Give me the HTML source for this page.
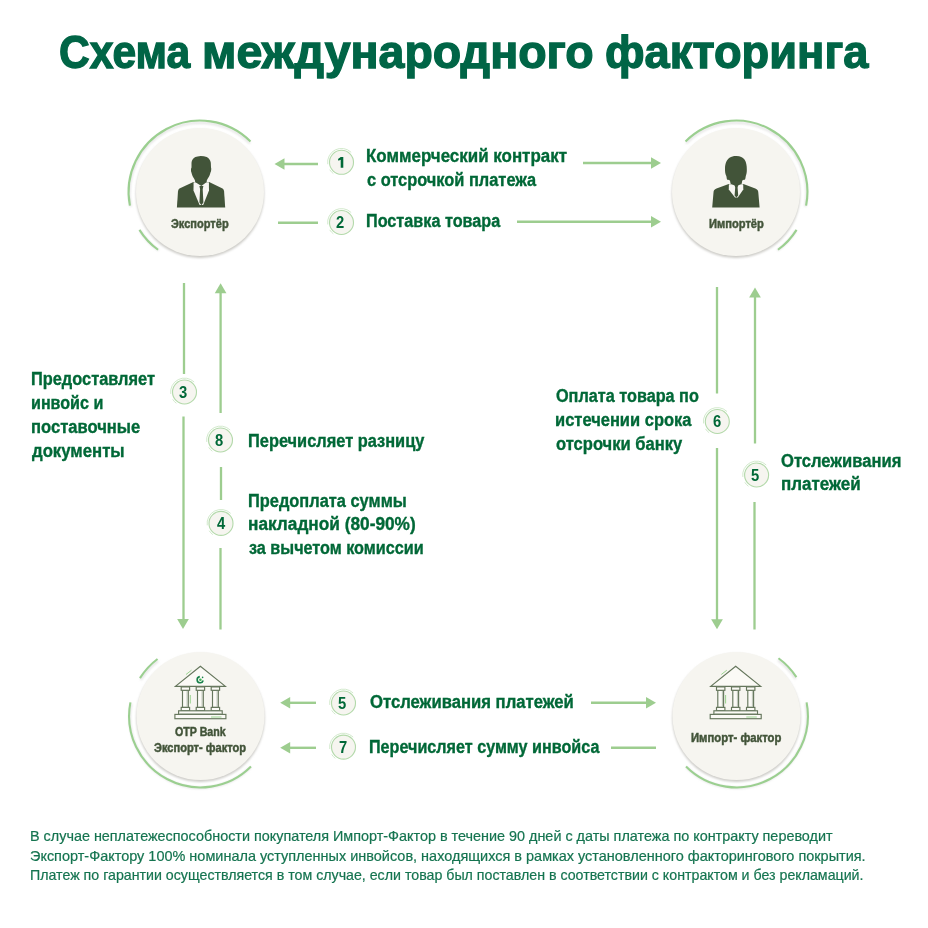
<!DOCTYPE html>
<html><head><meta charset="utf-8">
<style>
html,body{margin:0;padding:0;background:#fff;}
body{width:928px;height:928px;position:relative;overflow:hidden;font-family:"Liberation Sans",sans-serif;}
svg{position:absolute;left:0;top:0;}
.t{position:absolute;white-space:nowrap;transform-origin:0 0;}
.d{position:absolute;width:30px;text-align:center;font-weight:bold;transform:scaleX(0.93);}
</style></head><body>
<svg width="928" height="928" viewBox="0 0 928 928">
<defs><filter id="blur" x="-20%" y="-20%" width="140%" height="140%"><feGaussianBlur stdDeviation="0.8"/></filter></defs>
<circle cx="200" cy="193.8" r="64.2" fill="#cdccc8" filter="url(#blur)"/>
<circle cx="200" cy="192" r="64" fill="#f6f5f0"/>
<path d="M130.70 206.77 A70.6 70.6 0 0 1 249.92 143.38" stroke="#e2e2e2" stroke-width="2" fill="none" filter="url(#blur)"/>
<path d="M129.91 205.62 A71.4 71.4 0 0 1 250.49 141.51" stroke="#9bcf90" stroke-width="2.1" fill="none"/>
<path d="M158.50 250.42 A70.6 70.6 0 0 1 140.13 230.71" stroke="#e2e2e2" stroke-width="2" fill="none" filter="url(#blur)"/>
<path d="M158.03 249.76 A71.4 71.4 0 0 1 139.45 229.84" stroke="#9bcf90" stroke-width="2.1" fill="none"/>
<circle cx="736" cy="193.8" r="64.2" fill="#cdccc8" filter="url(#blur)"/>
<circle cx="736" cy="192" r="64" fill="#f6f5f0"/>
<path d="M686.08 143.38 A70.6 70.6 0 0 1 805.30 206.77" stroke="#e2e2e2" stroke-width="2" fill="none" filter="url(#blur)"/>
<path d="M685.51 141.51 A71.4 71.4 0 0 1 806.09 205.62" stroke="#9bcf90" stroke-width="2.1" fill="none"/>
<path d="M795.87 230.71 A70.6 70.6 0 0 1 777.50 250.42" stroke="#e2e2e2" stroke-width="2" fill="none" filter="url(#blur)"/>
<path d="M796.55 229.84 A71.4 71.4 0 0 1 777.97 249.76" stroke="#9bcf90" stroke-width="2.1" fill="none"/>
<circle cx="200.5" cy="717.8" r="64.2" fill="#cdccc8" filter="url(#blur)"/>
<circle cx="200.5" cy="716" r="64" fill="#f6f5f0"/>
<path d="M250.42 767.22 A70.6 70.6 0 0 1 131.20 703.83" stroke="#e2e2e2" stroke-width="2" fill="none" filter="url(#blur)"/>
<path d="M250.99 766.49 A71.4 71.4 0 0 1 130.41 702.38" stroke="#9bcf90" stroke-width="2.1" fill="none"/>
<path d="M140.63 679.89 A70.6 70.6 0 0 1 158.01 660.92" stroke="#e2e2e2" stroke-width="2" fill="none" filter="url(#blur)"/>
<path d="M139.95 678.16 A71.4 71.4 0 0 1 157.53 658.98" stroke="#9bcf90" stroke-width="2.1" fill="none"/>
<circle cx="736.5" cy="717.8" r="64.2" fill="#cdccc8" filter="url(#blur)"/>
<circle cx="736.5" cy="716" r="64" fill="#f6f5f0"/>
<path d="M805.80 703.83 A70.6 70.6 0 0 1 686.58 767.22" stroke="#e2e2e2" stroke-width="2" fill="none" filter="url(#blur)"/>
<path d="M806.59 702.38 A71.4 71.4 0 0 1 686.01 766.49" stroke="#9bcf90" stroke-width="2.1" fill="none"/>
<path d="M778.00 660.18 A70.6 70.6 0 0 1 795.71 678.85" stroke="#e2e2e2" stroke-width="2" fill="none" filter="url(#blur)"/>
<path d="M778.47 658.24 A71.4 71.4 0 0 1 796.38 677.11" stroke="#9bcf90" stroke-width="2.1" fill="none"/>
<line x1="284" y1="164" x2="318" y2="164" stroke="#9dcd8f" stroke-width="2.4"/>
<polygon points="274.5,164 284.5,158.25 284.5,169.75" fill="#9dcd8f"/>
<line x1="583" y1="163" x2="651" y2="163" stroke="#9dcd8f" stroke-width="2.4"/>
<polygon points="661,163 651,157.25 651,168.75" fill="#9dcd8f"/>
<line x1="278" y1="222.8" x2="318" y2="222.8" stroke="#9dcd8f" stroke-width="2.4"/>
<line x1="517" y1="221.8" x2="651" y2="221.8" stroke="#9dcd8f" stroke-width="2.4"/>
<polygon points="661,221.8 651,216.05 651,227.55" fill="#9dcd8f"/>
<line x1="290" y1="702.8" x2="316" y2="702.8" stroke="#9dcd8f" stroke-width="2.4"/>
<polygon points="280.2,702.8 290.2,697.05 290.2,708.55" fill="#9dcd8f"/>
<line x1="591" y1="702.8" x2="646" y2="702.8" stroke="#9dcd8f" stroke-width="2.4"/>
<polygon points="656,702.8 646,697.05 646,708.55" fill="#9dcd8f"/>
<line x1="290" y1="747.8" x2="316" y2="747.8" stroke="#9dcd8f" stroke-width="2.4"/>
<polygon points="280.2,747.8 290.2,742.05 290.2,753.55" fill="#9dcd8f"/>
<line x1="611" y1="747.8" x2="656" y2="747.8" stroke="#9dcd8f" stroke-width="2.4"/>
<line x1="184" y1="283" x2="184" y2="374" stroke="#9dcd8f" stroke-width="2.3"/>
<line x1="183.5" y1="416.5" x2="183.5" y2="620" stroke="#9dcd8f" stroke-width="2.3"/>
<polygon points="183,629 177.15,619 188.85,619" fill="#9dcd8f"/>
<polygon points="220.6,283.2 214.75,293.2 226.45,293.2" fill="#9dcd8f"/>
<line x1="220.6" y1="293" x2="220.6" y2="413" stroke="#9dcd8f" stroke-width="2.3"/>
<line x1="221" y1="467" x2="221" y2="500" stroke="#9dcd8f" stroke-width="2.3"/>
<line x1="220.5" y1="548" x2="220.5" y2="629.5" stroke="#9dcd8f" stroke-width="2.3"/>
<line x1="717" y1="287" x2="717" y2="393.5" stroke="#9dcd8f" stroke-width="2.3"/>
<line x1="717" y1="448" x2="717" y2="620" stroke="#9dcd8f" stroke-width="2.3"/>
<polygon points="717,629.3 711.15,619.3 722.85,619.3" fill="#9dcd8f"/>
<polygon points="755,287.5 749.15,297.5 760.85,297.5" fill="#9dcd8f"/>
<line x1="755" y1="297" x2="755" y2="443.5" stroke="#9dcd8f" stroke-width="2.3"/>
<line x1="754.5" y1="502" x2="754.5" y2="629.5" stroke="#9dcd8f" stroke-width="2.3"/>
<circle cx="341.5" cy="162.3" r="12" fill="#f6f5f0" stroke="#b3d9aa" stroke-width="1.1"/><path d="M327.74 164.23 A13.9 13.9 0 0 1 351.16 152.30" stroke="#d3eacd" stroke-width="1" fill="none"/><path d="M333.33 173.55 A13.9 13.9 0 0 1 329.71 169.67" stroke="#d3eacd" stroke-width="1" fill="none"/><path d="M340.7,157.0 L343.3,157.0 L343.3,167.70000000000002 L340.7,167.70000000000002 L340.7,159.70000000000002 L338.4,160.70000000000002 L338.0,159.0 Z" fill="#006837"/>
<circle cx="341.5" cy="222.5" r="12" fill="#f6f5f0" stroke="#b3d9aa" stroke-width="1.1"/><path d="M327.74 224.43 A13.9 13.9 0 0 1 351.16 212.50" stroke="#d3eacd" stroke-width="1" fill="none"/><path d="M333.33 233.75 A13.9 13.9 0 0 1 329.71 229.87" stroke="#d3eacd" stroke-width="1" fill="none"/>
<circle cx="184.5" cy="392" r="12" fill="#f6f5f0" stroke="#b3d9aa" stroke-width="1.1"/><path d="M170.74 393.93 A13.9 13.9 0 0 1 194.16 382.00" stroke="#d3eacd" stroke-width="1" fill="none"/><path d="M176.33 403.25 A13.9 13.9 0 0 1 172.71 399.37" stroke="#d3eacd" stroke-width="1" fill="none"/>
<circle cx="220.5" cy="440" r="12" fill="#f6f5f0" stroke="#b3d9aa" stroke-width="1.1"/><path d="M206.74 441.93 A13.9 13.9 0 0 1 230.16 430.00" stroke="#d3eacd" stroke-width="1" fill="none"/><path d="M212.33 451.25 A13.9 13.9 0 0 1 208.71 447.37" stroke="#d3eacd" stroke-width="1" fill="none"/>
<circle cx="221" cy="523.4" r="12" fill="#f6f5f0" stroke="#b3d9aa" stroke-width="1.1"/><path d="M207.24 525.33 A13.9 13.9 0 0 1 230.66 513.40" stroke="#d3eacd" stroke-width="1" fill="none"/><path d="M212.83 534.65 A13.9 13.9 0 0 1 209.21 530.77" stroke="#d3eacd" stroke-width="1" fill="none"/>
<circle cx="717.3" cy="421.5" r="12" fill="#f6f5f0" stroke="#b3d9aa" stroke-width="1.1"/><path d="M703.54 423.43 A13.9 13.9 0 0 1 726.96 411.50" stroke="#d3eacd" stroke-width="1" fill="none"/><path d="M709.13 432.75 A13.9 13.9 0 0 1 705.51 428.87" stroke="#d3eacd" stroke-width="1" fill="none"/>
<circle cx="756.6" cy="475" r="12" fill="#f6f5f0" stroke="#b3d9aa" stroke-width="1.1"/><path d="M742.84 476.93 A13.9 13.9 0 0 1 766.26 465.00" stroke="#d3eacd" stroke-width="1" fill="none"/><path d="M748.43 486.25 A13.9 13.9 0 0 1 744.81 482.37" stroke="#d3eacd" stroke-width="1" fill="none"/>
<circle cx="343.5" cy="703" r="12" fill="#f6f5f0" stroke="#b3d9aa" stroke-width="1.1"/><path d="M329.74 704.93 A13.9 13.9 0 0 1 353.16 693.00" stroke="#d3eacd" stroke-width="1" fill="none"/><path d="M335.33 714.25 A13.9 13.9 0 0 1 331.71 710.37" stroke="#d3eacd" stroke-width="1" fill="none"/>
<circle cx="343.5" cy="747.1" r="12" fill="#f6f5f0" stroke="#b3d9aa" stroke-width="1.1"/><path d="M329.74 749.03 A13.9 13.9 0 0 1 353.16 737.10" stroke="#d3eacd" stroke-width="1" fill="none"/><path d="M335.33 758.35 A13.9 13.9 0 0 1 331.71 754.47" stroke="#d3eacd" stroke-width="1" fill="none"/>
<g transform="translate(172,150)"><path d="M21.4,32 L8,38.2 C6.6,38.9 6.2,39.8 6,41.5 L4.9,57.6 L53.2,57.6 L52.1,41.5 C51.9,39.8 51.4,38.9 50,38.2 L37.1,32 Z" fill="#425439"/><path d="M21.6,32.2 L36.9,32.2 L37,40.5 L31.2,55 L27.6,55 L21.5,40.5 Z" fill="#f7f6f2"/><path d="M28.7,5.9 C31,5.9 33,6.3 34.7,7 C37,8 38.5,10.5 38.8,12.7 L39,17.4 C39.5,18.5 39.3,21.5 38.4,22.7 C38,24.5 37,27 36.1,28.1 C35.5,29.2 34.9,30 34.7,30.7 L34.7,32.1 L29.4,36.1 L23.1,32.1 L23.1,30.7 C22.9,30 22.3,29.2 21.7,28.1 C20.8,27 20,24.5 19.5,22.7 C18.8,21.5 18.8,18.5 19.5,17.4 L19.5,12.7 C19.8,10.5 20.5,9.5 21,9 C22,7.5 24,6.2 28.7,5.9 Z" fill="#425439"/><path d="M27.4,36 L31.4,36 L30.7,39.3 L31.4,52.5 L29.4,55.2 L27.4,52.5 L28.1,39.3 Z" fill="#425439"/></g>
<g transform="translate(707,150)"><path d="M21.7,34 L9.5,38.6 C7.5,39.5 6.6,40.5 6.5,42.5 L5.2,57.6 L52.6,57.6 L51.3,42.5 C51.2,40.5 50.3,39.5 48.3,38.6 L36.4,34 Z" fill="#425439"/><path d="M21.9,34.2 L36.2,34.2 L36.3,39.5 L30.8,47.6 L28,47.6 L21.8,39.5 Z" fill="#f7f6f2"/><path d="M28.7,6 C33,5.8 35.5,7 37.5,9.5 C39.2,12 39.9,15.5 39.8,19 C40,22 39.5,24 38.8,26 C38.5,27.5 38.6,28.8 37.8,29.7 C36.5,29.8 35.8,30 35.2,30.8 L34.7,33.8 L29.4,36.2 L23.6,33.8 L23,30.8 C22.5,30 21.5,29.8 20.2,29.7 C19.5,28.5 19.8,27.5 19.3,26 C18.3,24 17.9,21.5 18,19 C18,13 20,9.5 22.5,7.8 C24.5,6.5 26.5,6 28.7,6 Z" fill="#425439"/><path d="M27.5,34.8 L31.3,34.8 L30.6,37.6 L31.2,45.5 L29.4,47.6 L27.6,45.5 L28.2,37.6 Z" fill="#425439"/></g>
<g transform="translate(170,660)" fill="#fbfaf6" stroke="#65765c" stroke-width="1.15" stroke-linejoin="miter"><path d="M30.4,6.3 L5.4,26.4 L55.4,26.4 Z"/><rect x="12.50" y="30.3" width="5.8" height="17.1"/><rect x="11.20" y="26.9" width="8.4" height="3.4"/><rect x="11.20" y="47.4" width="8.4" height="3.4"/><rect x="27.50" y="30.3" width="5.8" height="17.1"/><rect x="26.20" y="26.9" width="8.4" height="3.4"/><rect x="26.20" y="47.4" width="8.4" height="3.4"/><rect x="42.50" y="30.3" width="5.8" height="17.1"/><rect x="41.20" y="26.9" width="8.4" height="3.4"/><rect x="41.20" y="47.4" width="8.4" height="3.4"/><rect x="8.6" y="50.8" width="43.6" height="3.6"/><rect x="4.9" y="54.4" width="51" height="4.3"/></g><g transform="translate(170,660)" stroke="#aab4a3" stroke-width="0.8"><line x1="17.10" y1="30.9" x2="17.10" y2="46.8"/><line x1="32.10" y1="30.9" x2="32.10" y2="46.8"/><line x1="47.10" y1="30.9" x2="47.10" y2="46.8"/><line x1="9.5" y1="53.6" x2="51.3" y2="53.6"/></g><g transform="translate(170,660)" stroke="#8fd083" stroke-width="0.9" fill="none"><path d="M16,14.5 L21.5,10.2"/><path d="M20.3,35 L20.3,43.5"/><path d="M41,57 L51.5,57"/></g><g transform="translate(170,660)"><path d="M33.2,20.6 A3.1,3.1 0 1 1 29.8,16.6" fill="none" stroke="#17804a" stroke-width="1.6"/><circle cx="32.6" cy="17.4" r="0.8" fill="#17804a"/><circle cx="30.4" cy="19.7" r="1.3" fill="#3cb454"/></g>
<g transform="translate(705.3,660)" fill="#fbfaf6" stroke="#65765c" stroke-width="1.15" stroke-linejoin="miter"><path d="M30.4,6.3 L5.4,26.4 L55.4,26.4 Z"/><rect x="12.50" y="30.3" width="5.8" height="17.1"/><rect x="11.20" y="26.9" width="8.4" height="3.4"/><rect x="11.20" y="47.4" width="8.4" height="3.4"/><rect x="27.50" y="30.3" width="5.8" height="17.1"/><rect x="26.20" y="26.9" width="8.4" height="3.4"/><rect x="26.20" y="47.4" width="8.4" height="3.4"/><rect x="42.50" y="30.3" width="5.8" height="17.1"/><rect x="41.20" y="26.9" width="8.4" height="3.4"/><rect x="41.20" y="47.4" width="8.4" height="3.4"/><rect x="8.6" y="50.8" width="43.6" height="3.6"/><rect x="4.9" y="54.4" width="51" height="4.3"/></g><g transform="translate(705.3,660)" stroke="#aab4a3" stroke-width="0.8"><line x1="17.10" y1="30.9" x2="17.10" y2="46.8"/><line x1="32.10" y1="30.9" x2="32.10" y2="46.8"/><line x1="47.10" y1="30.9" x2="47.10" y2="46.8"/><line x1="9.5" y1="53.6" x2="51.3" y2="53.6"/></g><g transform="translate(705.3,660)" stroke="#8fd083" stroke-width="0.9" fill="none"><path d="M16,14.5 L21.5,10.2"/><path d="M20.3,35 L20.3,43.5"/><path d="M41,57 L51.5,57"/></g>
</svg>
<div class="t" id="t0" style="left:59.08px;top:29.14px;font-size:46.5px;line-height:46.5px;color:#006546;font-weight:bold;transform:scaleX(0.9161);letter-spacing:0px;-webkit-text-stroke:1.3px #006546">Схема</div>
<div class="t" id="t1" style="left:202.19px;top:29.14px;font-size:46.5px;line-height:46.5px;color:#006546;font-weight:bold;transform:scaleX(0.9997);letter-spacing:0px;-webkit-text-stroke:1.3px #006546">международного</div>
<div class="t" id="t2" style="left:604.62px;top:29.14px;font-size:46.5px;line-height:46.5px;color:#006546;font-weight:bold;transform:scaleX(0.9731);letter-spacing:0px;-webkit-text-stroke:1.3px #006546">факторинга</div>
<div class="t" id="t3" style="left:366.22px;top:148.29px;font-size:17.5px;line-height:17.5px;color:#006837;font-weight:bold;transform:scaleX(0.9676);letter-spacing:0px;-webkit-text-stroke:0.35px #006837">Коммерческий контракт</div>
<div class="t" id="t4" style="left:367.19px;top:171.79px;font-size:17.5px;line-height:17.5px;color:#006837;font-weight:bold;transform:scaleX(0.9365);letter-spacing:0px;-webkit-text-stroke:0.35px #006837">с отсрочкой платежа</div>
<div class="t" id="t5" style="left:366.26px;top:213.49px;font-size:17.5px;line-height:17.5px;color:#006837;font-weight:bold;transform:scaleX(0.9269);letter-spacing:0px;-webkit-text-stroke:0.35px #006837">Поставка товара</div>
<div class="t" id="t6" style="left:370.00px;top:694.49px;font-size:17.5px;line-height:17.5px;color:#006837;font-weight:bold;transform:scaleX(0.9521);letter-spacing:0px;-webkit-text-stroke:0.35px #006837">Отслеживания платежей</div>
<div class="t" id="t7" style="left:369.08px;top:739.49px;font-size:17.5px;line-height:17.5px;color:#006837;font-weight:bold;transform:scaleX(0.9229);letter-spacing:0px;-webkit-text-stroke:0.35px #006837">Перечисляет сумму инвойса</div>
<div class="t" id="t8" style="left:30.67px;top:370.79px;font-size:17.5px;line-height:17.5px;color:#006837;font-weight:bold;transform:scaleX(0.9351);letter-spacing:0px;-webkit-text-stroke:0.35px #006837">Предоставляет</div>
<div class="t" id="t9" style="left:30.69px;top:394.79px;font-size:17.5px;line-height:17.5px;color:#006837;font-weight:bold;transform:scaleX(0.9195);letter-spacing:0px;-webkit-text-stroke:0.35px #006837">инвойс и</div>
<div class="t" id="t10" style="left:30.66px;top:418.79px;font-size:17.5px;line-height:17.5px;color:#006837;font-weight:bold;transform:scaleX(0.9474);letter-spacing:0px;-webkit-text-stroke:0.35px #006837">поставочные</div>
<div class="t" id="t11" style="left:31.56px;top:442.79px;font-size:17.5px;line-height:17.5px;color:#006837;font-weight:bold;transform:scaleX(0.9567);letter-spacing:0px;-webkit-text-stroke:0.35px #006837">документы</div>
<div class="t" id="t12" style="left:248.06px;top:432.79px;font-size:17.5px;line-height:17.5px;color:#006837;font-weight:bold;transform:scaleX(0.9362);letter-spacing:0px;-webkit-text-stroke:0.35px #006837">Перечисляет разницу</div>
<div class="t" id="t13" style="left:248.06px;top:493.09px;font-size:17.5px;line-height:17.5px;color:#006837;font-weight:bold;transform:scaleX(0.9369);letter-spacing:0px;-webkit-text-stroke:0.35px #006837">Предоплата суммы</div>
<div class="t" id="t14" style="left:248.01px;top:516.49px;font-size:17.5px;line-height:17.5px;color:#006837;font-weight:bold;transform:scaleX(0.9858);letter-spacing:0px;-webkit-text-stroke:0.35px #006837">накладной (80-90%)</div>
<div class="t" id="t15" style="left:249.00px;top:539.89px;font-size:17.5px;line-height:17.5px;color:#006837;font-weight:bold;transform:scaleX(0.9255);letter-spacing:0px;-webkit-text-stroke:0.35px #006837">за вычетом комиссии</div>
<div class="t" id="t16" style="left:556.00px;top:387.79px;font-size:17.5px;line-height:17.5px;color:#006837;font-weight:bold;transform:scaleX(0.9273);letter-spacing:0px;-webkit-text-stroke:0.35px #006837">Оплата товара по</div>
<div class="t" id="t17" style="left:555.06px;top:411.69px;font-size:17.5px;line-height:17.5px;color:#006837;font-weight:bold;transform:scaleX(0.9424);letter-spacing:0px;-webkit-text-stroke:0.35px #006837">истечении срока</div>
<div class="t" id="t18" style="left:556.00px;top:435.59px;font-size:17.5px;line-height:17.5px;color:#006837;font-weight:bold;transform:scaleX(0.9463);letter-spacing:0px;-webkit-text-stroke:0.35px #006837">отсрочки банку</div>
<div class="t" id="t19" style="left:781.22px;top:452.59px;font-size:17.5px;line-height:17.5px;color:#006837;font-weight:bold;transform:scaleX(0.9476);letter-spacing:0px;-webkit-text-stroke:0.35px #006837">Отслеживания</div>
<div class="t" id="t20" style="left:781.21px;top:476.09px;font-size:17.5px;line-height:17.5px;color:#006837;font-weight:bold;transform:scaleX(0.9704);letter-spacing:0px;-webkit-text-stroke:0.35px #006837">платежей</div>
<div class="t" id="t21" style="left:30.39px;top:829.01px;font-size:14.4px;line-height:14.4px;color:#157450;font-weight:normal;transform:scaleX(0.9999);letter-spacing:0px;-webkit-text-stroke:0.2px #157450">В случае неплатежеспособности покупателя Импорт-Фактор в течение 90 дней с даты платежа по контракту переводит</div>
<div class="t" id="t22" style="left:29.78px;top:848.81px;font-size:14.4px;line-height:14.4px;color:#157450;font-weight:normal;transform:scaleX(1.0052);letter-spacing:0px;-webkit-text-stroke:0.2px #157450">Экспорт-Фактору 100% номинала уступленных инвойсов, находящихся в рамках установленного факторингового покрытия.</div>
<div class="t" id="t23" style="left:30.40px;top:868.41px;font-size:14.4px;line-height:14.4px;color:#157450;font-weight:normal;transform:scaleX(0.9869);letter-spacing:0px;-webkit-text-stroke:0.2px #157450">Платеж по гарантии осуществляется в том случае, если товар был поставлен в соответствии с контрактом и без рекламаций.</div>
<div class="t" id="t24" style="left:171.41px;top:218.14px;font-size:12px;line-height:12px;color:#425439;font-weight:bold;transform:scaleX(0.9194);letter-spacing:0px;-webkit-text-stroke:0.45px #425439">Экспортёр</div>
<div class="t" id="t25" style="left:708.84px;top:218.14px;font-size:12px;line-height:12px;color:#425439;font-weight:bold;transform:scaleX(0.9271);letter-spacing:0px;-webkit-text-stroke:0.45px #425439">Импортёр</div>
<div class="t" id="t26" style="left:174.86px;top:726.14px;font-size:12px;line-height:12px;color:#425439;font-weight:bold;transform:scaleX(0.8877);letter-spacing:0px;-webkit-text-stroke:0.45px #425439">OTP Bank</div>
<div class="t" id="t27" style="left:154.37px;top:741.94px;font-size:12px;line-height:12px;color:#425439;font-weight:bold;transform:scaleX(0.9250);letter-spacing:0px;-webkit-text-stroke:0.45px #425439">Экспорт- фактор</div>
<div class="t" id="t28" style="left:690.61px;top:731.84px;font-size:12px;line-height:12px;color:#425439;font-weight:bold;transform:scaleX(0.9417);letter-spacing:0px;-webkit-text-stroke:0.45px #425439">Импорт- фактор</div>
<div class="d" style="left:325.2px;top:215.13px;font-size:15.9px;line-height:15.9px;color:#006837">2</div>
<div class="d" style="left:167.9px;top:384.63px;font-size:15.9px;line-height:15.9px;color:#006837">3</div>
<div class="d" style="left:204.0px;top:432.63px;font-size:15.9px;line-height:15.9px;color:#006837">8</div>
<div class="d" style="left:206px;top:516.03px;font-size:15.9px;line-height:15.9px;color:#006837">4</div>
<div class="d" style="left:702.3px;top:414.13px;font-size:15.9px;line-height:15.9px;color:#006837">6</div>
<div class="d" style="left:740.4px;top:467.63px;font-size:15.9px;line-height:15.9px;color:#006837">5</div>
<div class="d" style="left:327.3px;top:695.63px;font-size:15.9px;line-height:15.9px;color:#006837">5</div>
<div class="d" style="left:327.5px;top:739.73px;font-size:15.9px;line-height:15.9px;color:#006837">7</div>
</body></html>
